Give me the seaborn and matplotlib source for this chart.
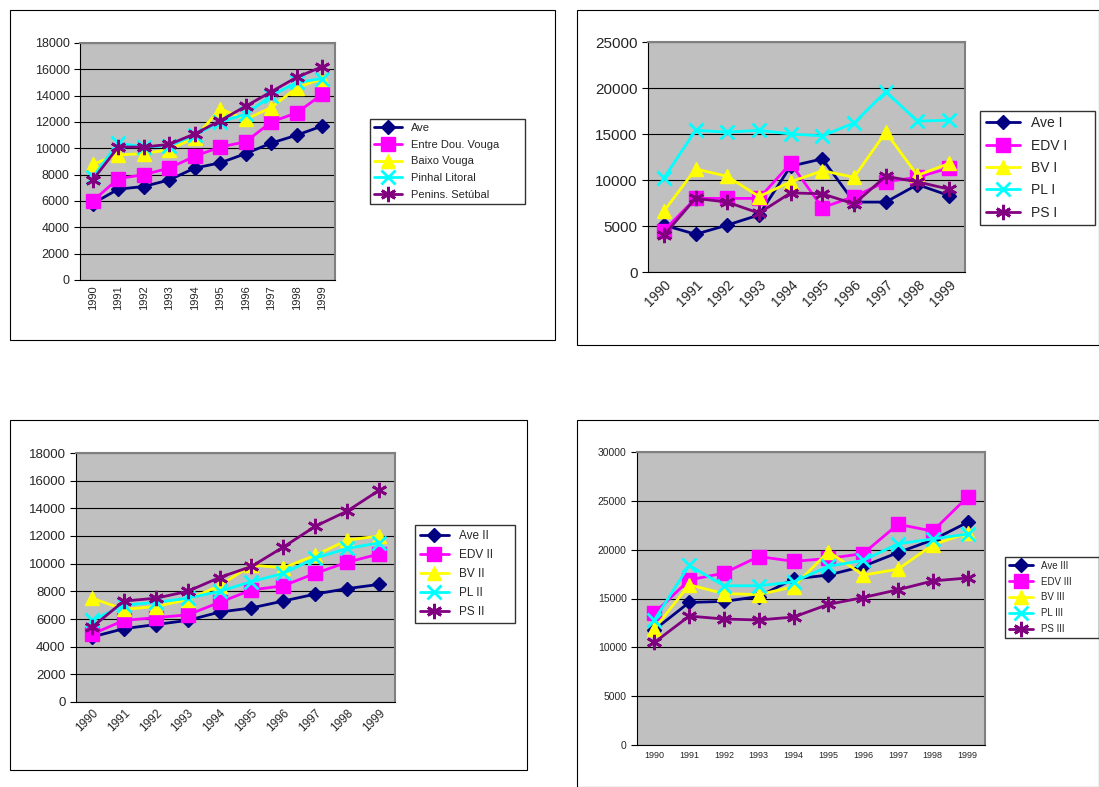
import numpy as np
import pandas as pd
import seaborn as sns
from matplotlib import pyplot as plt
from matplotlib.patches import Rectangle

years = [str(y) for y in range(1990, 2000)]

# panel 1
ave = [5800, 6900, 7100, 7600, 8500, 8900, 9600, 10400, 11000, 11700]
edv = [6000, 7700, 8000, 8500, 9400, 10100, 10500, 12000, 12700, 14100]
bv = [8800, 9500, 9600, 9900, 10800, 13000, 12200, 13100, 14600, 15300]
pl = [7800, 10400, 10100, 10200, 11000, 12000, 12600, 14000, 15000, 15300]
ps = [7600, 10100, 10100, 10300, 11100, 12100, 13200, 14300, 15400, 16200]
# panel 2
ave_1 = [5100, 4100, 5100, 6200, 11500, 12300, 7600, 7600, 9500, 8300]
edv_1 = [4500, 8000, 8000, 8000, 11800, 7000, 8200, 9800, 10300, 11300]
bv_1 = [6600, 11200, 10400, 8200, 9800, 11000, 10300, 15200, 10500, 11800]
pl_1 = [10200, 15400, 15200, 15400, 15000, 14800, 16200, 19600, 16400, 16500]
ps_1 = [4000, 8000, 7600, 6400, 8600, 8500, 7400, 10400, 9800, 9000]
# panel 3
ave_2 = [4700, 5300, 5600, 5900, 6500, 6800, 7300, 7800, 8200, 8500]
edv_2 = [4900, 5900, 6100, 6300, 7200, 8100, 8400, 9300, 10100, 10700]
bv_2 = [7500, 6700, 6900, 7400, 8400, 9900, 9700, 10600, 11700, 12000]
pl_2 = [5900, 7000, 7200, 7500, 8000, 8700, 9300, 10400, 11100, 11500]
ps_2 = [5400, 7300, 7500, 8000, 9000, 9800, 11200, 12700, 13800, 15300]
# panel 4
ave_3 = [11800, 14600, 14700, 15200, 17000, 17400, 18300, 19700, 21000, 22800]
edv_3 = [13500, 16900, 17600, 19300, 18800, 19100, 19600, 22600, 21900, 25400]
bv_3 = [11900, 16400, 15500, 15400, 16200, 19800, 17400, 18000, 20500, 21700]
pl_3 = [12800, 18400, 16300, 16300, 16700, 18300, 18900, 20600, 21100, 21600]
ps_3 = [10500, 13200, 12900, 12800, 13100, 14400, 15100, 15900, 16800, 17100]

labels1 = ['Ave', 'Entre Dou. Vouga', 'Baixo Vouga', 'Pinhal Litoral', 'Penins. Setúbal']
labels2 = ['Ave I', 'EDV I', 'BV I', 'PL I', 'PS I']
labels3 = ['Ave II', 'EDV II', 'BV II', 'PL II', 'PS II']
labels4 = ['Ave III', 'EDV III', 'BV III', 'PL III', 'PS III']

colors = ['#000080', '#FF00FF', '#FFFF00', '#00FFFF', '#800080']
markers = ['D', 's', '^', 'x', (6, 2, 0)]
msizes = [7, 10, 10, 10, 11]

sns.set_style('white')
plt.rcParams['font.family'] = ['Liberation Sans', 'DejaVu Sans']

W, H = 1099, 787
fig = plt.figure(figsize=(W / 100, H / 100), dpi=100)


def box(x0, y0, x1, y1):
    return [x0 / W, 1 - y1 / H, (x1 - x0) / W, (y1 - y0) / H]


def panel(frame, area, leg, series, labels, ymax, ystep, rot, fs, lfs):
    fig.patches.append(Rectangle((frame[0], frame[1]), frame[2], frame[3],
                                 transform=fig.transFigure, fill=False,
                                 edgecolor='black', lw=0.8))
    ax = fig.add_axes(box(*area))
    ax.set_facecolor('#C0C0C0')
    x = np.arange(len(years))
    for vals, lab, c, m, s in zip(series, labels, colors, markers, msizes):
        sns.lineplot(x=x, y=vals, ax=ax, color=c, marker=m, markersize=s,
                     markeredgecolor=c, markeredgewidth=2 if m in ('x', (6, 2, 0)) else 1,
                     lw=2, label=lab)
    ax.set_xlim(-0.5, 9.5)
    ax.set_ylim(0, ymax)
    ax.set_yticks(np.arange(0, ymax + 1, ystep))
    ax.yaxis.grid(True, color='black', lw=0.8)
    ax.set_axisbelow(True)
    ax.set_xticks(x)
    ax.set_xticklabels(years, rotation=rot, fontsize=fs,
                       ha='center' if rot in (0, 90) else 'right',
                       rotation_mode='anchor' if rot == 45 else 'default')
    ax.set_xticks(np.arange(-0.5, 10, 1), minor=True)
    ax.tick_params(axis='x', which='major', length=0, pad=4)
    ax.tick_params(axis='x', which='minor', length=4, color='black')
    ax.tick_params(axis='y', length=4, color='black', labelsize=fs + 1, left=True)
    for sp in ['left', 'bottom']:
        ax.spines[sp].set_color('black')
    for sp in ['top', 'right']:
        ax.spines[sp].set_color('#808080')
        ax.spines[sp].set_linewidth(1.5)
    ax.get_legend().remove()
    lax = fig.add_axes(box(*leg))
    lax.axis('off')
    h, l = ax.get_legend_handles_labels()
    lg = lax.legend(h, l, loc='center', mode='expand', bbox_to_anchor=(0, 0, 1, 1),
                    fontsize=lfs, frameon=True, fancybox=False, edgecolor='black',
                    handlelength=2.5, borderaxespad=0, labelspacing=0.6)
    return ax


panel(box(10, 10, 555, 340), (80, 43, 335, 280), (370, 105, 525, 218),
      [ave, edv, bv, pl, ps], labels1, 18000, 2000, 90, 8, 8)
panel(box(577, 10, 1099, 345), (648, 42, 965, 272), (980, 118, 1095, 218),
      [ave_1, edv_1, bv_1, pl_1, ps_1], labels2, 25000, 5000, 45, 10, 10)
panel(box(10, 420, 527, 770), (76, 453, 395, 702), (415, 520, 515, 628),
      [ave_2, edv_2, bv_2, pl_2, ps_2], labels3, 18000, 2000, 45, 8.5, 8.5)
panel(box(577, 420, 1099, 787), (637, 452, 985, 745), (1005, 540, 1099, 655),
      [ave_3, edv_3, bv_3, pl_3, ps_3], labels4, 30000, 5000, 0, 6.5, 7)

fig.savefig('out.png', dpi=100)
